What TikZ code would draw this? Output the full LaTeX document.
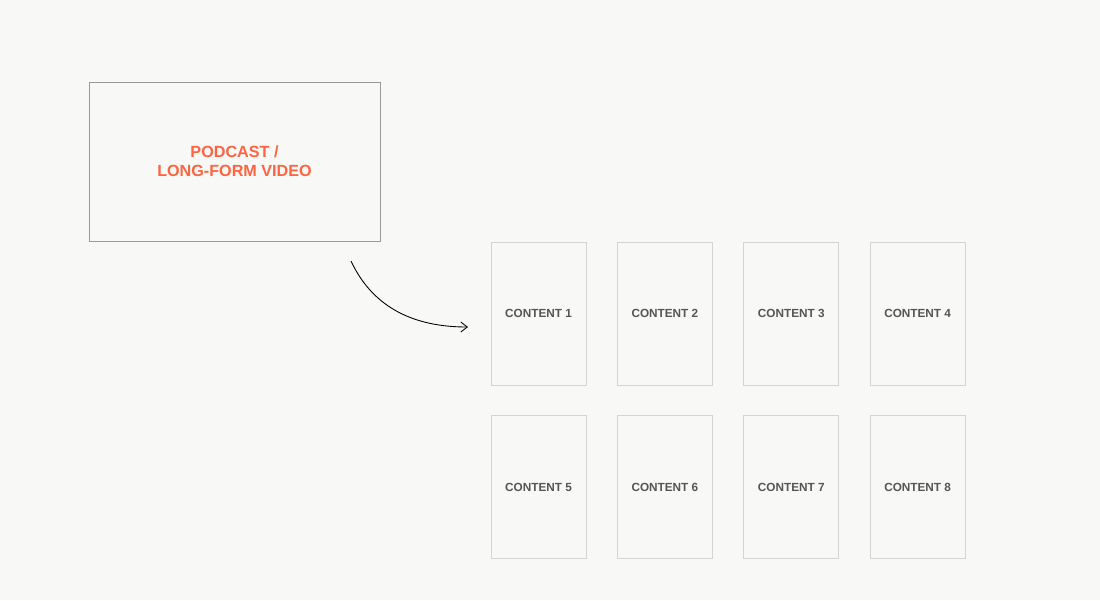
\documentclass[tikz,border=0pt]{standalone}
\usepackage{fontspec}
\setmainfont{Liberation Sans}
\usetikzlibrary{positioning, arrows.meta}
\definecolor{bgcol}{HTML}{F8F8F6}
\definecolor{accent}{HTML}{FF6340}
\definecolor{boxline}{HTML}{9A9A9A}
\definecolor{cardline}{HTML}{D4D4D2}
\definecolor{cardtext}{HTML}{555555}
\tikzset{
	source/.style={draw=boxline, line width=0.5pt, rectangle, minimum width=5.82cm, minimum height=3.18cm, align=center, text=accent, font=\bfseries\fontsize{9.2}{10.8}\selectfont},
	card/.style={draw=cardline, line width=0.5pt, rectangle, minimum width=1.9cm, minimum height=2.86cm, text=cardtext, font=\bfseries\fontsize{6.7}{8}\selectfont},
}

\begin{document}
\begin{tikzpicture}
			\fill[bgcol] (0,0) rectangle (22,-12);
			\useasboundingbox (0,0) rectangle (22,-12);
			
			\node (podcast) [source] at (4.69,-3.23) {PODCAST /\\LONG-FORM VIDEO};
			
			\node (c1) [card] at (10.77,-6.27) {CONTENT 1};
			\node (c2) [card, right=0.61cm of c1] {CONTENT 2};
			\node (c3) [card, right=0.61cm of c2] {CONTENT 3};
			\node (c4) [card, right=0.61cm of c3] {CONTENT 4};
			
			\node (c5) [card, below=0.6cm of c1] {CONTENT 5};
			\node (c6) [card, right=0.61cm of c5] {CONTENT 6};
			\node (c7) [card, right=0.61cm of c6] {CONTENT 7};
			\node (c8) [card, right=0.61cm of c7] {CONTENT 8};
			
			\coordinate (split) at (7.02,-5.22);
			\coordinate (into) at (9.36,-6.54);
			
			\begin{scope}[line width=0.5pt, black, -{Straight Barb[length=1.3mm, width=2mm]}]
				\draw (split) to[out=-65, in=180] (into);
			\end{scope}
		\end{tikzpicture}
\end{document}
